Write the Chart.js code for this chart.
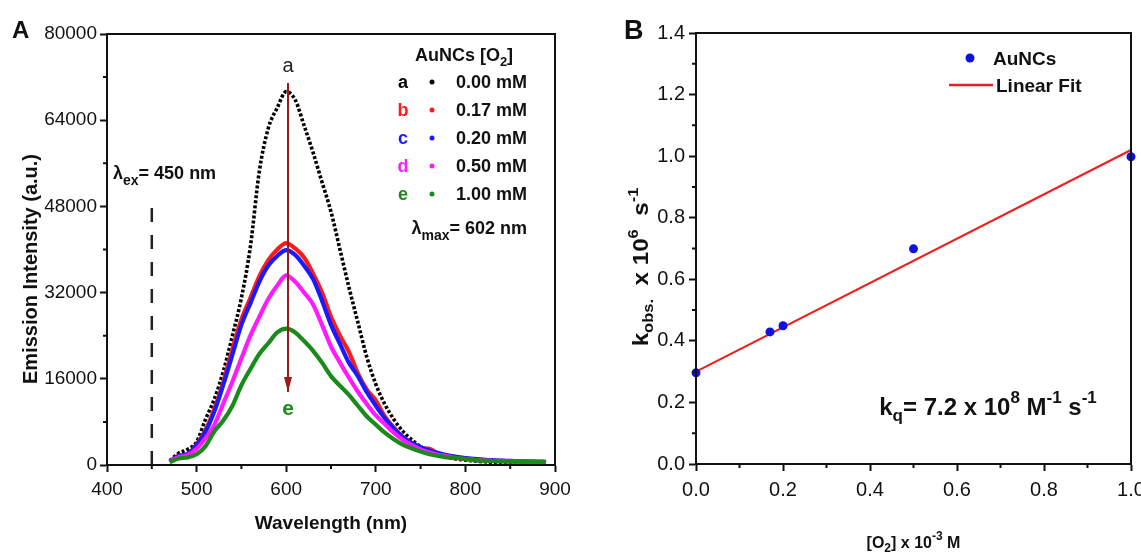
<!DOCTYPE html>
<html>
<head>
<meta charset="utf-8">
<title>AuNCs oxygen quenching</title>
<script src="https://cdn.jsdelivr.net/npm/chart.js@4.4.1/dist/chart.umd.min.js"></script>
<style>
  html, body { margin: 0; padding: 0; background: #fff; overflow: hidden; }
  #wrapA { position: absolute; left: 0; top: 0; width: 580px; height: 554px; }
  #wrapB { position: absolute; left: 580px; top: 0; width: 600px; height: 554px; }
</style>
</head>
<body>
<div id="wrapA"><canvas id="chartA" width="580" height="554"></canvas></div>
<div id="wrapB"><canvas id="chartB" width="600" height="554"></canvas></div>
<script>
const FONT = '"Liberation Sans", Arial, sans-serif';

// ---- panel A : emission spectra (read every 10 nm) ----
const wavelengths = [470,480,490,500,510,520,530,540,550,560,570,580,590,600,610,620,630,640,650,660,
  670,680,690,700,710,720,730,740,750,760,770,780,790,800,810,820,830,840,850,860,870,880,890];
const em000 = [800,2200,2900,4300,8500,12300,17500,24000,31000,40500,54500,62500,66300,69300,67800,63000,58000,52500,47000,40000,
  33000,26500,20000,15000,11300,8500,6300,4700,3400,2500,1900,1400,1100,900,750,600,500,450,400,350,300,300,250];
const em017 = [600,1700,2000,3800,6500,10500,15500,21500,27000,31000,35000,38000,40000,41200,40200,38500,35500,32000,27500,24000,
  21000,17000,14000,12000,9000,7000,5200,4000,3200,3000,2100,1700,1400,1200,1000,900,800,750,700,650,600,600,550];
const em020 = [600,1700,2000,3700,6200,10000,15000,20500,26000,30000,34000,37000,38800,39900,39000,37000,34500,30500,26000,22500,
  19000,16500,13500,11000,8700,6800,5200,4100,3300,2700,2200,1800,1500,1300,1150,1000,900,800,750,700,650,600,550];
const em050 = [600,1500,1800,3000,5000,7500,11500,15500,19800,24000,27500,30800,33300,35200,34000,32000,29800,26000,22000,19000,
  16200,13600,11300,9200,7600,6000,4700,3700,2900,2300,1900,1600,1300,1100,950,850,780,700,680,650,620,600,550];
const em100 = [500,1200,1400,2000,3500,6300,8300,11000,14800,17800,20600,22600,24600,25300,24600,23000,21200,19000,16500,14700,
  13000,11000,9000,7500,6000,4800,3800,3100,2500,2000,1700,1400,1300,1150,900,800,750,700,680,650,620,600,600];
const seriesLetters = ['a','b','c','d','e'];
const seriesLabels = ['0.00 mM','0.17 mM','0.20 mM','0.50 mM','1.00 mM'];
const seriesColors = ['#000000','#ff1a1a','#1a1aff','#ff1aff','#1a8a1a'];
const xTicksA = [400,500,600,700,800,900];
const yTicksA = [0,16000,32000,48000,64000,80000];
const exLineX = [450,450], exLineY = [0,49200];      // excitation marker
const arrowX = [602,602], arrowY = [70900,13550];   // quenching arrow

// ---- panel B : k_obs vs [O2] ----
const o2 = [0,0.17,0.2,0.5,1.0];
const kobs = [0.296,0.429,0.449,0.699,0.998];
const fitX = [0,1.0];
const fitY = [0.30,1.02];
const xTicksB = [0,0.2,0.4,0.6,0.8,1.0];
const yTicksB = [0,0.2,0.4,0.6,0.8,1.0,1.2,1.4];

const pts = (xs, ys) => xs.map((v, i) => ({x: v, y: ys[i]}));
const mids = arr => arr.slice(1).map((v, i) => (v + arr[i]) / 2);

// draws a run of text pieces: [text, size, weight, dy]
function rich(ctx, parts, x, y, align, stretch) {
  let w = 0;
  parts.forEach(p => { ctx.font = `${p[2]} ${p[1]}px ${FONT}`; w += ctx.measureText(p[0]).width; });
  ctx.save();
  ctx.translate(x, y);
  if (stretch) ctx.scale(stretch, 1);
  let cx = align === 'center' ? -w / 2 : align === 'right' ? -w : 0;
  ctx.textAlign = 'left';
  ctx.textBaseline = 'alphabetic';
  parts.forEach(p => {
    ctx.font = `${p[2]} ${p[1]}px ${FONT}`;
    ctx.fillText(p[0], cx, p[3] || 0);
    cx += ctx.measureText(p[0]).width;
  });
  ctx.restore();
}

function frameAndMinor(ctx, chart, xMinor, yMinor) {
  const ca = chart.chartArea, {x, y} = chart.scales;
  ctx.save();
  ctx.strokeStyle = '#111';
  ctx.lineWidth = 2;
  ctx.strokeRect(ca.left, ca.top, ca.right - ca.left, ca.bottom - ca.top);
  ctx.beginPath();
  xMinor.forEach(v => { const p = x.getPixelForValue(v); ctx.moveTo(p, ca.bottom); ctx.lineTo(p, ca.bottom + 4); });
  yMinor.forEach(v => { const p = y.getPixelForValue(v); ctx.moveTo(ca.left, p); ctx.lineTo(ca.left - 4, p); });
  ctx.stroke();
  ctx.restore();
}

const axis = (min, max, ticks, size, fit, fmt, pad) => ({
  type: 'linear', min: min, max: max,
  afterBuildTicks: s => { s.ticks = ticks.map(v => ({value: v})); },
  afterFit: fit,
  grid: { drawOnChartArea: false, tickLength: 7, tickWidth: 2, color: '#111' },
  border: { color: '#111', width: 2 },
  ticks: { color: '#111', font: { family: FONT, size: size }, padding: pad, maxRotation: 0, autoSkip: false, callback: fmt }
});

const decorA = {
  id: 'decorA',
  afterDraw(chart) {
    const ctx = chart.ctx, ca = chart.chartArea, {x, y} = chart.scales;
    frameAndMinor(ctx, chart, mids(xTicksA), mids(yTicksA));
    ctx.save();
    // arrow head
    const ax = x.getPixelForValue(arrowX[1]), ay = y.getPixelForValue(arrowY[1]);
    ctx.fillStyle = '#9b1b1b';
    ctx.beginPath();
    ctx.moveTo(ax, ay); ctx.lineTo(ax - 4, ay - 15); ctx.lineTo(ax + 4, ay - 15); ctx.closePath();
    ctx.fill();
    // curve labels
    ctx.fillStyle = '#222';
    rich(ctx, [['a', 20, 'normal']], ax, y.getPixelForValue(arrowY[0]) - 11, 'center');
    ctx.fillStyle = seriesColors[4];
    rich(ctx, [['e', 21, 'bold']], ax, ay + 23, 'center');
    // panel letter + axis titles
    ctx.fillStyle = '#111';
    rich(ctx, [['A', 24, 'bold']], 12, 38, 'left');
    rich(ctx, [['Wavelength (nm)', 19, 'bold']], (ca.left + ca.right) / 2, 529, 'center');
    ctx.save();
    ctx.translate(37, 269);
    ctx.rotate(-Math.PI / 2);
    rich(ctx, [['Emission Intensity (a.u.)', 20, 'bold']], 0, 0, 'center');
    ctx.restore();
    // excitation label
    rich(ctx, [['\u03bb', 18, 'bold'], ['ex', 14, 'bold', 6], ['= 450 nm', 18, 'bold']], 113, 179, 'left');
    // legend
    const lx = ca.left, ly = ca.top;
    rich(ctx, [['AuNCs [O', 18, 'bold'], ['2', 13, 'bold', 5], [']', 18, 'bold']], lx + 357, ly + 27, 'center');
    seriesLetters.forEach((s, i) => {
      const cy = ly + 48 + i * 28;
      ctx.fillStyle = seriesColors[i];
      rich(ctx, [[s, 18, 'bold']], lx + 296, cy + 6, 'center');
      ctx.beginPath(); ctx.arc(lx + 325, cy, 2.5, 0, Math.PI * 2); ctx.fill();
      ctx.fillStyle = '#111';
      rich(ctx, [[seriesLabels[i], 18, 'bold']], lx + 420, cy + 6, 'right');
    });
    rich(ctx, [['\u03bb', 18, 'bold'], ['max', 14, 'bold', 6], ['= 602 nm', 18, 'bold']], lx + 420, ly + 200, 'right');
    ctx.restore();
  }
};

const spectra = [em000, em017, em020, em050, em100];
const dsA = spectra.map((s, i) => ({
  data: pts(wavelengths, s),
  showLine: true, pointRadius: 0,
  borderColor: seriesColors[i], borderWidth: i === 0 ? 3.6 : 4.2,
  borderDash: i === 0 ? [3, 2] : [],
  cubicInterpolationMode: 'monotone',
  order: 6 - i
}));
dsA.push({ data: pts(exLineX, exLineY), showLine: true, pointRadius: 0, borderColor: '#222', borderWidth: 2.5, borderDash: [14, 13], order: 7 });
dsA.push({ data: pts(arrowX, arrowY), showLine: true, pointRadius: 0, borderColor: '#9b1b1b', borderWidth: 2, order: 0 });

new Chart(document.getElementById('chartA'), {
  type: 'scatter',
  data: { datasets: dsA },
  options: {
    responsive: false, animation: false, devicePixelRatio: 1,
    layout: { padding: { left: 0, top: 34, right: 25, bottom: 0 } },
    plugins: { legend: { display: false }, tooltip: { enabled: false } },
    scales: {
      x: axis(400, 900, xTicksA, 19, s => { s.height = 89; }, v => v, 6),
      y: axis(0, 80000, yTicksA, 19, s => { s.width = 107; }, v => v, 3)
    }
  },
  plugins: [decorA]
});

const decorB = {
  id: 'decorB',
  afterDraw(chart) {
    const ctx = chart.ctx, ca = chart.chartArea;
    frameAndMinor(ctx, chart, mids(xTicksB), mids(yTicksB));
    ctx.save();
    ctx.fillStyle = '#111';
    rich(ctx, [['B', 27, 'bold']], 44, 39, 'left');
    // legend
    ctx.fillStyle = '#1010e0';
    ctx.beginPath(); ctx.arc(390, 58, 4.5, 0, Math.PI * 2); ctx.fill();
    ctx.fillStyle = '#111';
    rich(ctx, [['AuNCs', 19, 'bold']], 413, 65, 'left');
    ctx.strokeStyle = '#f01e1e'; ctx.lineWidth = 2.5;
    ctx.beginPath(); ctx.moveTo(369, 85); ctx.lineTo(413, 85); ctx.stroke();
    rich(ctx, [['Linear Fit', 19, 'bold']], 416, 92, 'left');
    // rate constant
    rich(ctx, [['k', 24, 'bold'], ['q', 17, 'bold', 6], ['= 7.2 x 10', 24, 'bold'], ['8', 17, 'bold', -12],
      [' M', 24, 'bold'], ['-1', 17, 'bold', -12], [' s', 24, 'bold'], ['-1', 17, 'bold', -12]], 408, 415, 'center');
    // axis titles
    rich(ctx, [['[O', 16, 'bold'], ['2', 12, 'bold', 4], ['] x 10', 16, 'bold'], ['-3', 12, 'bold', -8], [' M', 16, 'bold']],
      (ca.left + ca.right) / 2, 548, 'center');
    ctx.save();
    ctx.translate(68, 267);
    ctx.rotate(-Math.PI / 2);
    rich(ctx, [['k', 22, 'bold'], ['obs.', 15, 'bold', 5], ['  x 10', 22, 'bold'], ['6', 15, 'bold', -10],
      ['  s', 22, 'bold'], ['-1', 15, 'bold', -10]], 0, 0, 'center', 1.1);
    ctx.restore();
    ctx.restore();
  }
};

new Chart(document.getElementById('chartB'), {
  type: 'scatter',
  data: {
    datasets: [
      { data: pts(o2, kobs), pointRadius: 4.5, pointBackgroundColor: '#1010e0', pointBorderWidth: 0, clip: false, order: 0 },
      { data: pts(fitX, fitY), showLine: true, pointRadius: 0, borderColor: '#f01e1e', borderWidth: 2.2, order: 1 }
    ]
  },
  options: {
    responsive: false, animation: false, devicePixelRatio: 1,
    layout: { padding: { left: 0, top: 33, right: 49, bottom: 0 } },
    plugins: { legend: { display: false }, tooltip: { enabled: false } },
    scales: {
      x: axis(0, 1, xTicksB, 20, s => { s.height = 90; }, v => v.toFixed(1), 7),
      y: axis(0, 1.4, yTicksB, 20, s => { s.width = 116; }, v => v.toFixed(1), 4)
    }
  },
  plugins: [decorB]
});
</script>
</body>
</html>
